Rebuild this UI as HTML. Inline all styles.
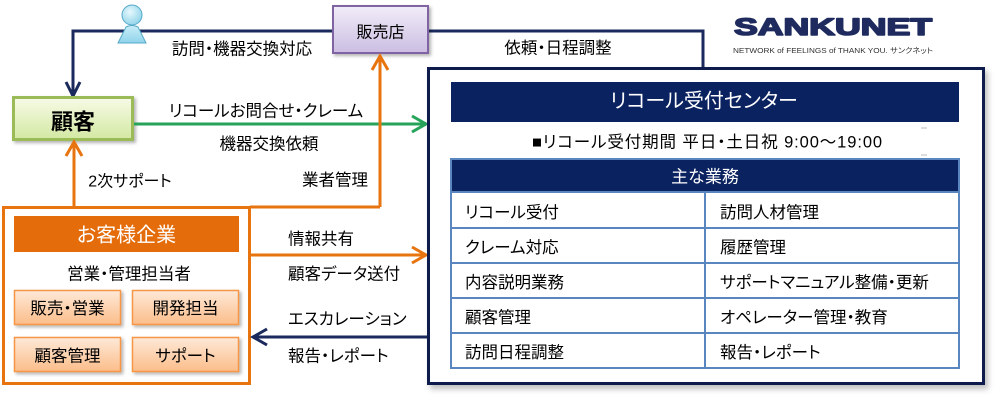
<!DOCTYPE html>
<html><head><meta charset="utf-8">
<style>
html,body{margin:0;padding:0;background:#fff;}
svg{display:block;}
text{font-family:"Liberation Sans","Noto Sans CJK JP",sans-serif;font-feature-settings:"palt";}
</style></head>
<body>
<svg width="999" height="400" viewBox="0 0 999 400" xmlns="http://www.w3.org/2000/svg">
<defs>
  <linearGradient id="gPurple" x1="0" y1="0" x2="0" y2="1"><stop offset="0" stop-color="#f1ecf8"/><stop offset="1" stop-color="#cbbde2"/></linearGradient>
  <linearGradient id="gGreen" x1="0" y1="0" x2="0" y2="1"><stop offset="0" stop-color="#f6fbe6"/><stop offset="1" stop-color="#d3e8a2"/></linearGradient>
  <linearGradient id="gOrange" x1="0" y1="0" x2="0" y2="1"><stop offset="0" stop-color="#fee9d8"/><stop offset="1" stop-color="#fbbd8a"/></linearGradient>
  <radialGradient id="gHead" cx="0.4" cy="0.35" r="0.7"><stop offset="0" stop-color="#e6f8fd"/><stop offset="1" stop-color="#8ed3ea"/></radialGradient>
  <linearGradient id="gBody" x1="0" y1="0" x2="0" y2="1"><stop offset="0" stop-color="#c9eef9"/><stop offset="1" stop-color="#8fd3ea"/></linearGradient>
  <filter id="sh" x="-10%" y="-10%" width="130%" height="140%"><feDropShadow dx="2" dy="2" stdDeviation="1.5" flood-color="#000" flood-opacity="0.3"/></filter>
  <filter id="shBig" x="-5%" y="-5%" width="115%" height="115%"><feDropShadow dx="3" dy="4" stdDeviation="3" flood-color="#000" flood-opacity="0.25"/></filter>
</defs>

<!-- navy top connectors -->
<path d="M333 31 H73 V95" fill="none" stroke="#1b2a5c" stroke-width="3"/>
<path d="M66 82 L73 96 L80 82" fill="none" stroke="#1b2a5c" stroke-width="3"/>
<path d="M428 31 H703 V68" fill="none" stroke="#1b2a5c" stroke-width="3"/>

<!-- person icon -->
<path d="M126 27 Q132 24 138 27 L146 43 L118 43 Z" fill="url(#gBody)" stroke="#55a9c8" stroke-width="1"/>
<circle cx="132" cy="15" r="10" fill="url(#gHead)" stroke="#55a9c8" stroke-width="1"/>

<!-- 販売店 -->
<rect x="333" y="6" width="95" height="47" fill="url(#gPurple)" stroke="#8064a2" stroke-width="2" filter="url(#sh)"/>
<text x="380.5" y="37.5" font-size="16" text-anchor="middle" fill="#000">販売店</text>

<text x="242" y="54.5" font-size="16.5" text-anchor="middle" fill="#000">訪問・機器交換対応</text>
<text x="558" y="53.5" font-size="16.5" text-anchor="middle" fill="#000">依頼・日程調整</text>

<!-- 顧客 -->
<rect x="13.5" y="97.5" width="119" height="42" fill="url(#gGreen)" stroke="#9bbb59" stroke-width="3" filter="url(#sh)"/>
<text x="73" y="129.5" font-size="22" font-weight="bold" text-anchor="middle" fill="#000">顧客</text>

<!-- green arrow -->
<path d="M134 124 H425" stroke="#27a35a" stroke-width="3" fill="none"/>
<path d="M412 116 L426 124 L412 132" stroke="#27a35a" stroke-width="3" fill="none"/>
<text x="266" y="116.5" font-size="16.5" text-anchor="middle" fill="#000">リコールお問合せ・クレーム</text>
<text x="269" y="149.5" font-size="16.5" text-anchor="middle" fill="#000">機器交換依頼</text>

<!-- orange verticals -->
<path d="M380 207 V57" stroke="#e7740f" stroke-width="3" fill="none"/>
<path d="M372 70 L380 56 L388 70" stroke="#e7740f" stroke-width="3" fill="none"/>
<path d="M74 207 V143" stroke="#e7740f" stroke-width="3" fill="none"/>
<path d="M66 156 L74 142 L82 156" stroke="#e7740f" stroke-width="3" fill="none"/>
<path d="M250 207 H380" stroke="#e7740f" stroke-width="3" fill="none"/>
<text x="130" y="186.5" font-size="16" text-anchor="middle" fill="#000">2次サポート</text>
<text x="335" y="185.5" font-size="16.5" text-anchor="middle" fill="#000">業者管理</text>

<!-- お客様企業 box -->
<rect x="3.5" y="207.5" width="246" height="176" fill="#fff" stroke="#e7740f" stroke-width="3"/>
<rect x="14" y="216" width="225" height="36" fill="#e46c0a"/>
<text x="126.5" y="241.5" font-size="20" text-anchor="middle" fill="#fff">お客様企業</text>
<text x="129" y="279.5" font-size="16.5" text-anchor="middle" fill="#000">営業・管理担当者</text>

<rect x="14.5" y="290.5" width="106" height="34" fill="url(#gOrange)" stroke="#f79646" stroke-width="1.5" filter="url(#sh)"/>
<rect x="132.5" y="290.5" width="106" height="34" fill="url(#gOrange)" stroke="#f79646" stroke-width="1.5" filter="url(#sh)"/>
<rect x="14.5" y="337.5" width="106" height="34" fill="url(#gOrange)" stroke="#f79646" stroke-width="1.5" filter="url(#sh)"/>
<rect x="132.5" y="337.5" width="106" height="34" fill="url(#gOrange)" stroke="#f79646" stroke-width="1.5" filter="url(#sh)"/>
<text x="67.5" y="314" font-size="16.5" text-anchor="middle" fill="#000">販売・営業</text>
<text x="185.5" y="314" font-size="16.5" text-anchor="middle" fill="#000">開発担当</text>
<text x="67.5" y="361.5" font-size="16.5" text-anchor="middle" fill="#000">顧客管理</text>
<text x="185.5" y="361.5" font-size="16.5" text-anchor="middle" fill="#000">サポート</text>

<!-- orange arrow right -->
<path d="M251 255 H425" stroke="#e7740f" stroke-width="3" fill="none"/>
<path d="M412 247 L426 255 L412 263" stroke="#e7740f" stroke-width="3" fill="none"/>
<text x="288" y="244.5" font-size="16.5" fill="#000">情報共有</text>
<text x="288" y="279.5" font-size="16.5" fill="#000">顧客データ送付</text>

<!-- navy arrow left -->
<path d="M427 337 H254" stroke="#1b2a5c" stroke-width="3" fill="none"/>
<path d="M267 329 L253 337 L267 345" stroke="#1b2a5c" stroke-width="3" fill="none"/>
<text x="288" y="324.5" font-size="16.5" fill="#000">エスカレーション</text>
<text x="288" y="361.5" font-size="16.5" fill="#000">報告・レポート</text>

<!-- main box -->
<rect x="428.5" y="68.5" width="555" height="315" fill="#fff" stroke="#0f1f4d" stroke-width="3" filter="url(#shBig)"/>
<rect x="451" y="82" width="508" height="40" fill="#0b2260"/>
<text x="704" y="107.5" font-size="20" text-anchor="middle" fill="#fff">リコール受付センター</text>
<text x="707.5" y="147.5" font-size="16.5" letter-spacing="0.9" text-anchor="middle" fill="#000">■リコール受付期間 平日・土日祝 9:00〜19:00</text>
<path d="M921 128 H927 M921 155 H927" stroke="#bbb" stroke-width="1"/>

<!-- table -->
<rect x="451" y="159" width="508" height="33" fill="#0b2260"/>
<text x="705" y="182.5" font-size="17" text-anchor="middle" fill="#fff">主な業務</text>
<g stroke="#5a86c0" stroke-width="2" fill="none">
  <path d="M451 158 V369 M959 158 V369 M451 159 H959"/>
  <path d="M451 192 H959 M451 228 H959 M451 263 H959 M451 298 H959 M451 333 H959 M451 368 H959"/>
  <path d="M705 192 V368"/>
</g>
<g font-size="16.5" fill="#000">
  <text x="465" y="218">リコール受付</text>
  <text x="465" y="253">クレーム対応</text>
  <text x="465" y="288">内容説明業務</text>
  <text x="465" y="323">顧客管理</text>
  <text x="465" y="358">訪問日程調整</text>
  <text x="720" y="218">訪問人材管理</text>
  <text x="720" y="253">履歴管理</text>
  <text x="720" y="288">サポートマニュアル整備・更新</text>
  <text x="720" y="323">オペレーター管理・教育</text>
  <text x="720" y="358">報告・レポート</text>
</g>

<!-- logo -->
<text x="734" y="35" font-size="24" font-weight="bold" fill="#1f2b5e" stroke="#1f2b5e" stroke-width="1.6" stroke-linejoin="round" textLength="198" lengthAdjust="spacingAndGlyphs" style="font-family:'Liberation Sans',sans-serif;">SANKUNET</text>
<text x="733" y="53" font-size="7.5" fill="#333" textLength="200" lengthAdjust="spacingAndGlyphs">NETWORK of FEELINGS of THANK YOU. サンクネット</text>
</svg>
</body></html>
